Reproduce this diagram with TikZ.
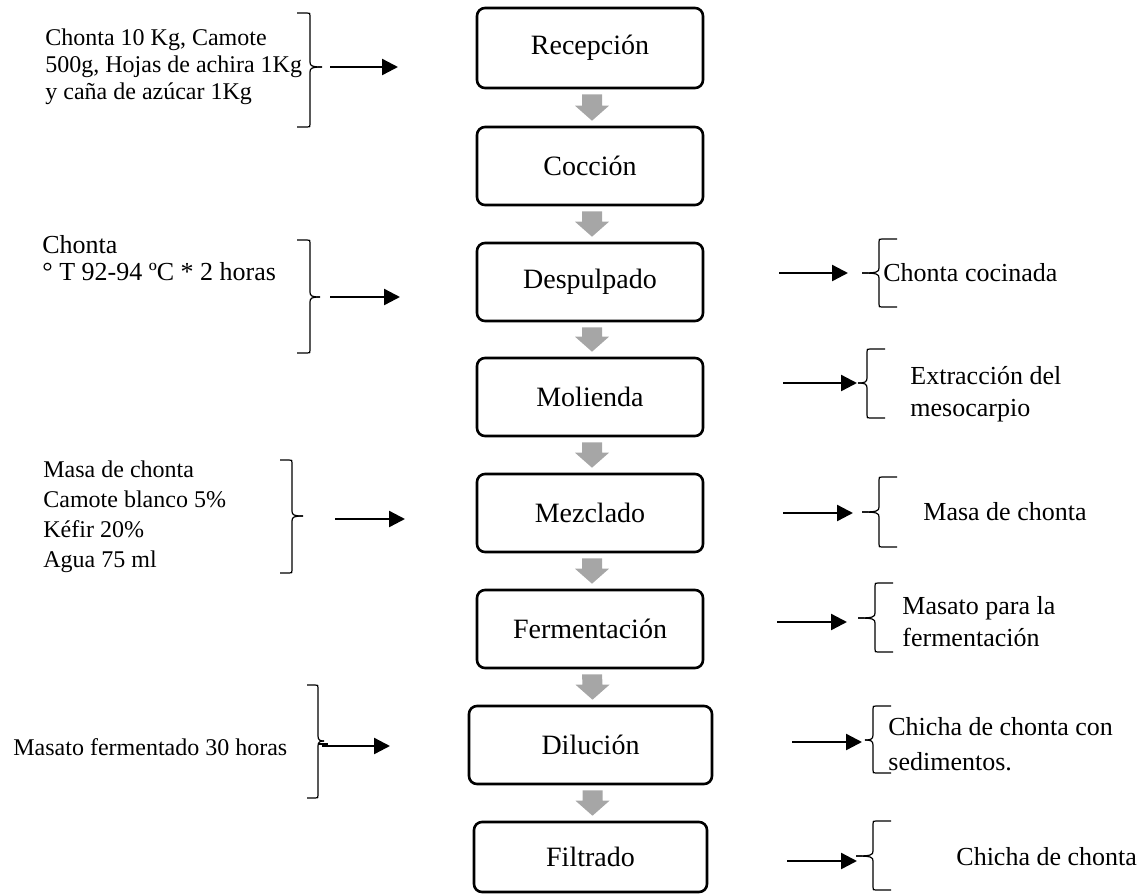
\documentclass[tikz,border=0pt]{standalone}
\usepackage{fontspec}
\setmainfont{Liberation Serif}
\usetikzlibrary{arrows.meta,calc}
\definecolor{arrowgray}{RGB}{166,166,166}
\tikzset{
 stepbox/.style={draw, line width=1.3pt, rounded corners=4pt, minimum width=113pt, minimum height=39pt, inner sep=0pt, font=\fontsize{14}{16}\selectfont},
 bracestyle/.style={line width=0.6pt},
 flow/.style={line width=1.2pt, -{Triangle[length=8pt,width=8pt]}},
 lefttext/.style={anchor=west, inner sep=0pt, align=left},
 righttext/.style={anchor=west, inner sep=0pt, align=left},
}
\newcommand\grayarrow[2]{\fill[arrowgray] ($(#1.south)+(-8,5)$) -- ($(#1.south)+(12,5)$) -- ($(#2.north)+(12,-20)$) -- ($(#2.north)+(19,-20)$) -- ($(#2.north)+(2,-5)$) -- ($(#2.north)+(-15,-20)$) -- ($(#2.north)+(-8,-20)$) -- cycle;}
% closing brace: X, top, mid, bottom, tip length, hook length
\newcommand\closebrace[6]{%
 \draw[bracestyle] (#1-#6,#2) -- (#1-3,#2) .. controls (#1,#2) .. (#1,#2+3) -- (#1,#3-5) .. controls (#1,#3-1) and (#1+2,#3) .. (#1+#5,#3);
 \draw[bracestyle] (#1+#5,#3) .. controls (#1+2,#3) and (#1,#3+1) .. (#1,#3+5) -- (#1,#4-3) .. controls (#1,#4) .. (#1-3,#4) -- (#1-#6,#4);}
% opening brace: X, top, mid, bottom, tip length, hook length
\newcommand\openbrace[6]{%
 \draw[bracestyle] (#1+#6,#2) -- (#1+3,#2) .. controls (#1,#2) .. (#1,#2+3) -- (#1,#3-5) .. controls (#1,#3-1) and (#1-2,#3) .. (#1-#5,#3);
 \draw[bracestyle] (#1-#5,#3) .. controls (#1-2,#3) and (#1,#3+1) .. (#1,#3+5) -- (#1,#4-3) .. controls (#1,#4) .. (#1+3,#4) -- (#1+#6,#4);}
\begin{document}
\begin{tikzpicture}[x=0.5pt,y=-0.5pt]
\useasboundingbox (0,0) rectangle (1147,895);
% process boxes
\node[stepbox, minimum height=40pt] (rec) at (590,48) {Recepción};
\node[stepbox] (coc) at (590,166) {Cocción};
\node[stepbox] (des) at (590,282) {Despulpado};
\node[stepbox] (mol) at (590,397) {Molienda};
\node[stepbox] (mez) at (590,513) {Mezclado};
\node[stepbox] (fer) at (590,629) {Fermentación};
\node[stepbox, minimum width=121.5pt] (dil) at (590.5,745) {Dilución};
\node[stepbox, minimum width=116.5pt, minimum height=35pt] (fil) at (590.5,857) {Filtrado};
% gray arrows
\grayarrow{rec}{coc}
\grayarrow{coc}{des}
\grayarrow{des}{mol}
\grayarrow{mol}{mez}
\grayarrow{mez}{fer}
\grayarrow{fer}{dil}
\grayarrow{dil}{fil}
% left texts
\node[lefttext, font=\fontsize{12}{13.5}\selectfont] (t1) at (45,67) {Chonta 10 Kg, Camote\\500g, Hojas de achira 1Kg\\y caña de azúcar 1Kg};
\node[lefttext, font=\fontsize{13}{13.5}\selectfont] (t2) at (42,258.5) {Chonta\\° T 92-94 ºC * 2 horas};
\node[lefttext, font=\fontsize{12}{15}\selectfont] (t3) at (43,517) {Masa de chonta\\Camote blanco 5\%\\Kéfir 20\%\\Agua 75 ml};
\node[lefttext, font=\fontsize{12}{14}\selectfont] (t4) at (13,747) {Masato fermentado 30 horas};
% left braces
\closebrace{310}{13}{67}{127}{12}{13}
\closebrace{310}{240}{297}{353}{10}{13}
\closebrace{292}{460}{516}{573}{11}{12}
\closebrace{318}{685}{741}{798}{6}{11}
\draw[bracestyle] (318,744) -- (328,744);
% left arrows
\coordinate (l1s) at (330,67);  \coordinate (l1e) at (398,67);
\coordinate (l2s) at (330,297); \coordinate (l2e) at (400,297);
\coordinate (l3s) at (335,519); \coordinate (l3e) at (405,519);
\coordinate (l4s) at (322,746); \coordinate (l4e) at (390,746);
\draw[flow] (l1s) -- (l1e);
\draw[flow] (l2s) -- (l2e);
\draw[flow] (l3s) -- (l3e);
\draw[flow] (l4s) -- (l4e);
% right arrows
\coordinate (r1s) at (779,273); \coordinate (r1e) at (848,273);
\coordinate (r2s) at (783,383); \coordinate (r2e) at (857,383);
\coordinate (r3s) at (783,513); \coordinate (r3e) at (853,513);
\coordinate (r4s) at (777,622); \coordinate (r4e) at (847,622);
\coordinate (r5s) at (792,742); \coordinate (r5e) at (862,742);
\coordinate (r6s) at (787,861); \coordinate (r6e) at (857,861);
\draw[flow] (r1s) -- (r1e);
\draw[flow] (r2s) -- (r2e);
\draw[flow] (r3s) -- (r3e);
\draw[flow] (r4s) -- (r4e);
\draw[flow] (r5s) -- (r5e);
\draw[flow] (r6s) -- (r6e);
% right braces
\openbrace{879}{239}{273}{307}{17}{18}
\openbrace{867}{349}{383}{418}{9}{18}
\openbrace{879}{477}{512}{547}{17}{18}
\openbrace{875}{583}{618}{652}{17}{18}
\openbrace{873}{706}{740}{773}{8}{18}
\openbrace{873}{821}{856}{890}{17}{18}
% right texts
\node[righttext, font=\fontsize{13}{16}\selectfont] (o1) at (883,273) {Chonta cocinada};
\node[righttext, font=\fontsize{13}{16}\selectfont] (o2) at (910,394) {Extracción del\\mesocarpio};
\node[righttext, font=\fontsize{13}{16}\selectfont] (o3) at (923,512) {Masa de chonta};
\node[righttext, font=\fontsize{13}{16}\selectfont] (o4) at (902,622) {Masato para la\\fermentación};
\node[righttext, font=\fontsize{13}{17.5}\selectfont] (o5) at (888,744.5) {Chicha de chonta con\\sedimentos.};
\node[righttext, font=\fontsize{13}{16}\selectfont] (o6) at (956,857) {Chicha de chonta};
\end{tikzpicture}
\end{document}
